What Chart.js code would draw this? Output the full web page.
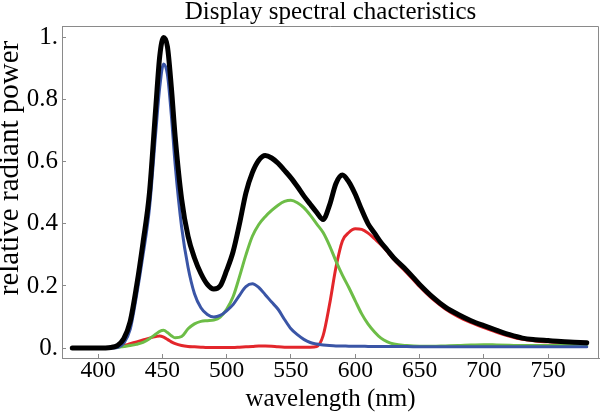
<!DOCTYPE html>
<html>
<head>
<meta charset="utf-8">
<script src="https://cdn.jsdelivr.net/npm/chart.js@4"></script>
<style>
  html, body { margin: 0; padding: 0; background: #fff; }
</style>
</head>
<body>
<canvas id="spectra" width="600" height="415"></canvas>
<script>
// wavelength samples (nm)
const wavelengths = [380, 390, 400, 410, 415, 420, 425, 430, 435, 440, 445, 448, 451, 454, 457,
  460, 465, 470, 475, 480, 485, 490, 495, 500, 505, 510, 515, 520, 525, 530, 535, 540, 545, 550,
  555, 560, 565, 570, 575, 580, 585, 590, 595, 600, 605, 610, 615, 620, 625, 630,
  640, 650, 660, 670, 680, 690, 700, 710, 720, 730, 740, 750, 760, 770, 780];

const total = [0, 0, 0, 0.002, 0.008, 0.03, 0.085, 0.2, 0.34, 0.5, 0.78, 0.94, 1.0, 0.97, 0.84,
  0.68, 0.48, 0.36, 0.29, 0.24, 0.205, 0.19, 0.2, 0.25, 0.31, 0.4, 0.5, 0.565, 0.605, 0.62, 0.612, 0.595, 0.572, 0.548,
  0.52, 0.49, 0.463, 0.437, 0.414, 0.46, 0.53, 0.557, 0.535, 0.495, 0.445, 0.4, 0.37, 0.34, 0.315, 0.29,
  0.25, 0.205, 0.165, 0.132, 0.108, 0.088, 0.072, 0.057, 0.043, 0.032, 0.027, 0.024, 0.021, 0.019, 0.017];

const blue = [0, 0, 0, 0, 0.002, 0.015, 0.06, 0.17, 0.3, 0.45, 0.7, 0.84, 0.915, 0.88, 0.75,
  0.59, 0.39, 0.26, 0.175, 0.13, 0.108, 0.1, 0.105, 0.12, 0.14, 0.17, 0.198, 0.207, 0.195, 0.172, 0.148, 0.125, 0.092, 0.062,
  0.043, 0.028, 0.018, 0.013, 0.01, 0.008, 0.007, 0.007, 0.006, 0.006, 0.006, 0.005, 0.005, 0.005, 0.005, 0.005,
  0.005, 0.004, 0.004, 0.004, 0.004, 0.004, 0.004, 0.004, 0.004, 0.004, 0.004, 0.004, 0.004, 0.004, 0.004];

const green = [0, 0, 0, 0, 0.002, 0.005, 0.008, 0.012, 0.018, 0.03, 0.045, 0.054, 0.057, 0.05, 0.04,
  0.033, 0.037, 0.062, 0.078, 0.086, 0.088, 0.09, 0.1, 0.125, 0.165, 0.23, 0.3, 0.36, 0.398, 0.423, 0.443, 0.46, 0.472, 0.476,
  0.468, 0.452, 0.428, 0.4, 0.372, 0.33, 0.28, 0.235, 0.195, 0.152, 0.11, 0.077, 0.052, 0.032, 0.02, 0.013,
  0.008, 0.006, 0.006, 0.007, 0.008, 0.01, 0.011, 0.01, 0.009, 0.008, 0.008, 0.008, 0.008, 0.008, 0.008];

const red = [0, 0, 0, 0, 0.003, 0.008, 0.014, 0.02, 0.026, 0.032, 0.037, 0.039, 0.035, 0.028, 0.02,
  0.014, 0.008, 0.005, 0.004, 0.003, 0.002, 0.002, 0.002, 0.002, 0.002, 0.003, 0.004, 0.005, 0.007, 0.007, 0.006, 0.004, 0.003, 0.003,
  0.003, 0.003, 0.003, 0.005, 0.04, 0.14, 0.26, 0.345, 0.372, 0.384, 0.382, 0.37, 0.352, 0.333, 0.31, 0.285,
  0.243, 0.198, 0.158, 0.126, 0.101, 0.082, 0.066, 0.051, 0.038, 0.028, 0.023, 0.02, 0.018, 0.016, 0.015];

const xTicks = [400, 450, 500, 550, 600, 650, 700, 750];
const yTicks = [0, 0.2, 0.4, 0.6, 0.8, 1];
const yTickLabels = ['0.', '0.2', '0.4', '0.6', '0.8', '1.'];

const chartTitle = 'Display spectral chacteristics';
const xTitle = 'wavelength (nm)';
const yTitle = 'relative radiant power';

const serif = 'Liberation Serif, Times New Roman, serif';
const frameColor = '#8a8a8a';

function points(values) {
  return wavelengths.map((w, i) => ({ x: w, y: values[i] }));
}

function line(values, color, width) {
  return {
    data: points(values),
    borderColor: color,
    borderWidth: width,
    pointRadius: 0,
    cubicInterpolationMode: 'monotone',
    borderJoinStyle: 'round',
    borderCapStyle: 'round',
    fill: false
  };
}

// top and right sides of the frame, plus the rotated y label
const framePlugin = {
  id: 'frame',
  afterDraw(chart) {
    const { ctx, chartArea } = chart;
    ctx.save();
    ctx.strokeStyle = frameColor;
    ctx.lineWidth = 1;
    ctx.beginPath();
    ctx.moveTo(chartArea.left, chartArea.top + 0.5);
    ctx.lineTo(chartArea.right - 0.5, chartArea.top + 0.5);
    ctx.lineTo(chartArea.right - 0.5, chartArea.bottom);
    ctx.stroke();

    ctx.translate(10, 168);
    ctx.rotate(-Math.PI / 2);
    ctx.font = '29px ' + serif;
    ctx.fillStyle = '#000';
    ctx.textAlign = 'center';
    ctx.textBaseline = 'middle';
    ctx.fillText(yTitle, 0, 0);
    ctx.restore();
  }
};

new Chart(document.getElementById('spectra'), {
  type: 'line',
  data: {
    datasets: [
      line(total, '#000000', 5),
      line(blue, '#3a55a6', 3),
      line(green, '#6dbd47', 3),
      line(red, '#e3262b', 3)
    ]
  },
  options: {
    responsive: false,
    animation: false,
    layout: { padding: { right: 1 } },
    plugins: {
      legend: { display: false },
      tooltip: { enabled: false },
      title: {
        display: true,
        fullSize: false,
        text: chartTitle,
        color: '#000',
        font: { family: serif, size: 25, weight: 'normal', lineHeight: 0.96 },
        padding: { top: 0, bottom: 2 }
      }
    },
    scales: {
      x: {
        type: 'linear',
        min: 372,
        max: 789.5,
        afterBuildTicks: s => { s.ticks = xTicks.map(v => ({ value: v })); },
        afterFit: s => { s.height = 57; },
        ticks: { color: '#000', font: { family: serif, size: 23.5 }, padding: 3, maxRotation: 0, autoSkip: false },
        grid: { drawOnChartArea: false, tickLength: -4, color: frameColor },
        border: { color: frameColor },
        title: {
          display: true,
          text: xTitle,
          color: '#000',
          font: { family: serif, size: 25, lineHeight: 1 },
          padding: { top: 0, bottom: 3 }
        }
      },
      y: {
        min: -0.032,
        max: 1.037,
        afterBuildTicks: s => { s.ticks = yTicks.map(v => ({ value: v })); },
        afterFit: s => { s.width = 62; },
        ticks: {
          color: '#000',
          font: { family: serif, size: 25 },
          padding: 8,
          callback: v => yTickLabels[yTicks.indexOf(v)]
        },
        grid: { drawOnChartArea: false, tickLength: -4, color: frameColor },
        border: { color: frameColor }
      }
    }
  },
  plugins: [framePlugin]
});
</script>
</body>
</html>
